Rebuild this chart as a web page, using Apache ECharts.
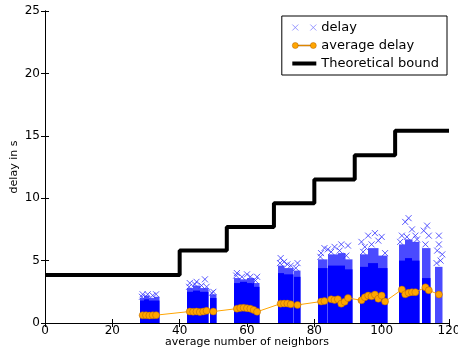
<!DOCTYPE html>
<html>
<head>
<meta charset="utf-8">
<script src="https://cdn.jsdelivr.net/npm/echarts@6/dist/echarts.min.js"></script>
<style>
  * { margin: 0; padding: 0; }
  #chart-container { width: 458px; height: 351px; background: #fff; }
</style>
</head>
<body>
<div id="chart-container"></div>
<script>
  // dense delay blocks: [x start, x end, solid top, sparse top]
  var delayColumns = [
    [28.3, 29.5, 1.8, 2.0], [29.5, 31, 1.9, 2.2], [31, 32.5, 1.8, 2.0], [32.5, 33.9, 1.8, 2.1],
    [42.3, 44, 2.5, 2.8], [44, 46, 2.6, 3.0], [46, 48.5, 2.5, 2.8],
    [49, 50.8, 2.0, 2.3],
    [56.2, 58, 3.2, 3.6], [58, 60, 3.3, 3.5], [60, 62, 3.2, 3.6], [62, 63.6, 2.9, 3.2],
    [69.2, 71, 4.0, 4.6], [71, 73.7, 3.9, 4.4], [74, 75.7, 3.7, 4.2],
    [81.2, 83.8, 4.4, 5.1], [84.2, 87, 4.6, 5.5], [87, 89, 4.6, 5.6], [89, 91.2, 4.3, 5.1],
    [93.6, 96, 4.5, 5.5], [96, 99, 4.8, 6.0], [99, 101.5, 4.4, 5.4],
    [105, 107, 5.0, 6.3], [107, 109, 5.2, 6.7], [109, 111, 5.0, 6.5],
    [112, 114.3, 3.6, 6.0],
    [115.8, 117.8, 0.0, 4.5]
  ]
  // single delay crosses around and above the blocks
  var delayPoints = [
    [28.8, 2.1], [29, 2.3], [30.5, 2.3], [32, 2.2], [33, 2.3],
    [42.8, 2.9], [43, 3.2], [44.5, 3.1], [45, 3.3], [46.5, 3.0], [47.5, 3.5], [48, 2.9], [50, 2.5], [49.5, 2.4],
    [56.8, 3.8], [57, 4.0], [58.5, 3.7], [60, 3.9], [61, 3.7], [62.5, 3.4], [63, 3.7],
    [69.8, 4.8], [70, 5.2], [71, 4.9], [72, 4.7], [73, 4.6], [74.5, 4.4], [75, 4.8],
    [81.8, 5.3], [82, 5.6], [83, 6.0], [84, 5.9], [85, 5.7], [86, 6.1], [87.5, 5.8], [88, 6.3], [89.5, 5.4], [90, 6.2],
    [94, 6.5], [94.5, 5.7], [95, 6.1], [96, 7.0], [97, 6.3], [98, 7.2], [99, 6.6], [100, 6.9], [101, 5.6],
    [105.5, 6.5], [106, 7.0], [107, 8.1], [107.5, 6.9], [108, 8.4], [109, 7.5], [110, 7.0], [110.5, 6.7],
    [112.5, 7.4], [113, 6.3], [113.5, 7.8], [114, 7.0],
    [116.5, 5.8], [117, 6.3], [117, 7.0], [118, 5.5], [116.3, 4.8], [117.5, 5.0]
  ]
  var avgX = [29, 30, 31, 32, 33, 43, 44, 45, 46, 47, 48, 50, 57, 58, 59, 60, 61, 62, 63,
    70, 71, 72, 73, 75, 82, 83, 85, 86, 87, 88, 89, 90, 94, 95, 96, 97, 98, 99, 100, 101,
    106, 107, 108, 109, 110, 113, 114, 117]
  var avgY = [0.62, 0.62, 0.6, 0.62, 0.63, 0.92, 0.9, 0.92, 0.88, 0.92, 0.98, 0.92,
    1.15, 1.2, 1.22, 1.18, 1.15, 1.05, 0.9, 1.55, 1.56, 1.56, 1.5, 1.45,
    1.72, 1.76, 1.9, 1.85, 1.9, 1.55, 1.7, 2.0, 1.82, 2.06, 2.2, 2.14, 2.28, 1.94, 2.2, 1.72,
    2.68, 2.3, 2.42, 2.47, 2.47, 2.86, 2.62, 2.28]
  var boundX = [0, 40, 54, 68, 80, 92, 104, 120]
  var boundY = [3.85, 5.8, 7.7, 9.6, 11.5, 13.45, 15.4, 15.4]

  var font = 'DejaVu Sans'
  var chart = echarts.init(document.getElementById('chart-container'), null, { renderer: 'canvas' })

  function axisCommon(extra) {
    return Object.assign({
      type: 'value',
      splitLine: { show: false },
      axisLine: { show: true, lineStyle: { color: '#000', width: 1 } },
      axisTick: { show: true, inside: true, length: 4, lineStyle: { color: '#000' } },
      axisLabel: { color: '#000', fontFamily: font, fontSize: 12 }
    }, extra)
  }

  var option = {
    animation: false,
    grid: { left: 45, right: 9, top: 11, bottom: 28, outerBoundsMode: 'none' },
    xAxis: [
      axisCommon({ min: 0, max: 120, interval: 20, position: 'bottom',
        name: 'average number of neighbors', nameLocation: 'middle', nameGap: 14,
        nameMoveOverlap: false,
        nameTextStyle: { color: '#000', fontFamily: font, fontSize: 11 },
        axisLabel: { color: '#000', fontFamily: font, fontSize: 12, margin: 2 } }),
      axisCommon({ min: 0, max: 120, interval: 20, position: 'top', axisLabel: { show: false } })
    ],
    yAxis: [
      axisCommon({ min: 0, max: 25, interval: 5, position: 'left',
        name: 'delay in s', nameLocation: 'middle', nameGap: 25,
        nameMoveOverlap: false,
        nameTextStyle: { color: '#000', fontFamily: font, fontSize: 11 },
        axisLabel: { color: '#000', fontFamily: font, fontSize: 12, margin: 5 } }),
      axisCommon({ min: 0, max: 25, interval: 5, position: 'right', axisLabel: { show: false } })
    ],
    legend: {
      orient: 'vertical',
      right: 11,
      top: 16,
      padding: [5, 8],
      itemGap: 5,
      itemWidth: 24,
      itemHeight: 10,
      borderColor: '#000',
      borderWidth: 1,
      borderRadius: 0,
      backgroundColor: '#fff',
      textStyle: { color: '#000', fontFamily: font, fontSize: 13 },
      data: [
        { name: 'delay', icon: 'path://M0,0L6,6M0,6L6,0M18,0L24,6M18,6L24,0',
          itemStyle: { color: 'none', borderColor: '#8080ff', borderWidth: 1 } },
        { name: 'average delay',
          icon: 'path://M0,3a3,3 0 1,0 6,0a3,3 0 1,0 -6,0Z M18,3a3,3 0 1,0 6,0a3,3 0 1,0 -6,0Z M6,2.5L18,2.5L18,3.5L6,3.5Z',
          itemStyle: { color: '#ffa500', borderColor: '#b06000', borderWidth: 0.5 } },
        { name: 'Theoretical bound', icon: 'path://M0,0L24,0L24,4L0,4Z',
          itemStyle: { color: '#000', borderWidth: 0 } }
      ]
    },
    series: [
      {
        name: 'delay blocks',
        type: 'custom',
        data: delayColumns,
        encode: { x: [0, 1], y: [2, 3] },
        renderItem: function (params, api) {
          var base = api.coord([api.value(0), 0])
          var solid = api.coord([api.value(1), api.value(2)])
          var sparse = api.coord([api.value(1), api.value(3)])
          var x0 = Math.round(base[0])
          var w = Math.round(solid[0]) - x0 + 0.5
          return {
            type: 'group',
            children: [
              { type: 'rect', shape: { x: x0, y: sparse[1], width: w, height: base[1] - sparse[1] },
                style: { fill: '#4a4aff' } },
              { type: 'rect', shape: { x: x0, y: solid[1], width: w, height: base[1] - solid[1] },
                style: { fill: '#0000ff' } }
            ]
          }
        },
        z: 1
      },
      {
        name: 'delay',
        type: 'scatter',
        data: delayPoints,
        symbol: 'path://M0,0L10,10M0,10L10,0',
        symbolSize: 6,
        itemStyle: { color: 'none', borderColor: '#3030ff', borderWidth: 1 },
        z: 2
      },
      {
        name: 'average delay',
        type: 'line',
        data: avgX.map(function (x, i) { return [x, avgY[i]] }),
        symbol: 'circle',
        symbolSize: 7,
        lineStyle: { color: '#ffa500', width: 1 },
        itemStyle: { color: '#ffa500', borderColor: '#b06000', borderWidth: 0.5 },
        z: 3
      },
      {
        name: 'Theoretical bound',
        type: 'line',
        step: 'end',
        data: boundX.map(function (x, i) { return [x, boundY[i]] }),
        symbol: 'none',
        lineStyle: { color: '#000', width: 4 },
        itemStyle: { color: '#000' },
        z: 4
      }
    ]
  }
  chart.setOption(option)
</script>
</body>
</html>
